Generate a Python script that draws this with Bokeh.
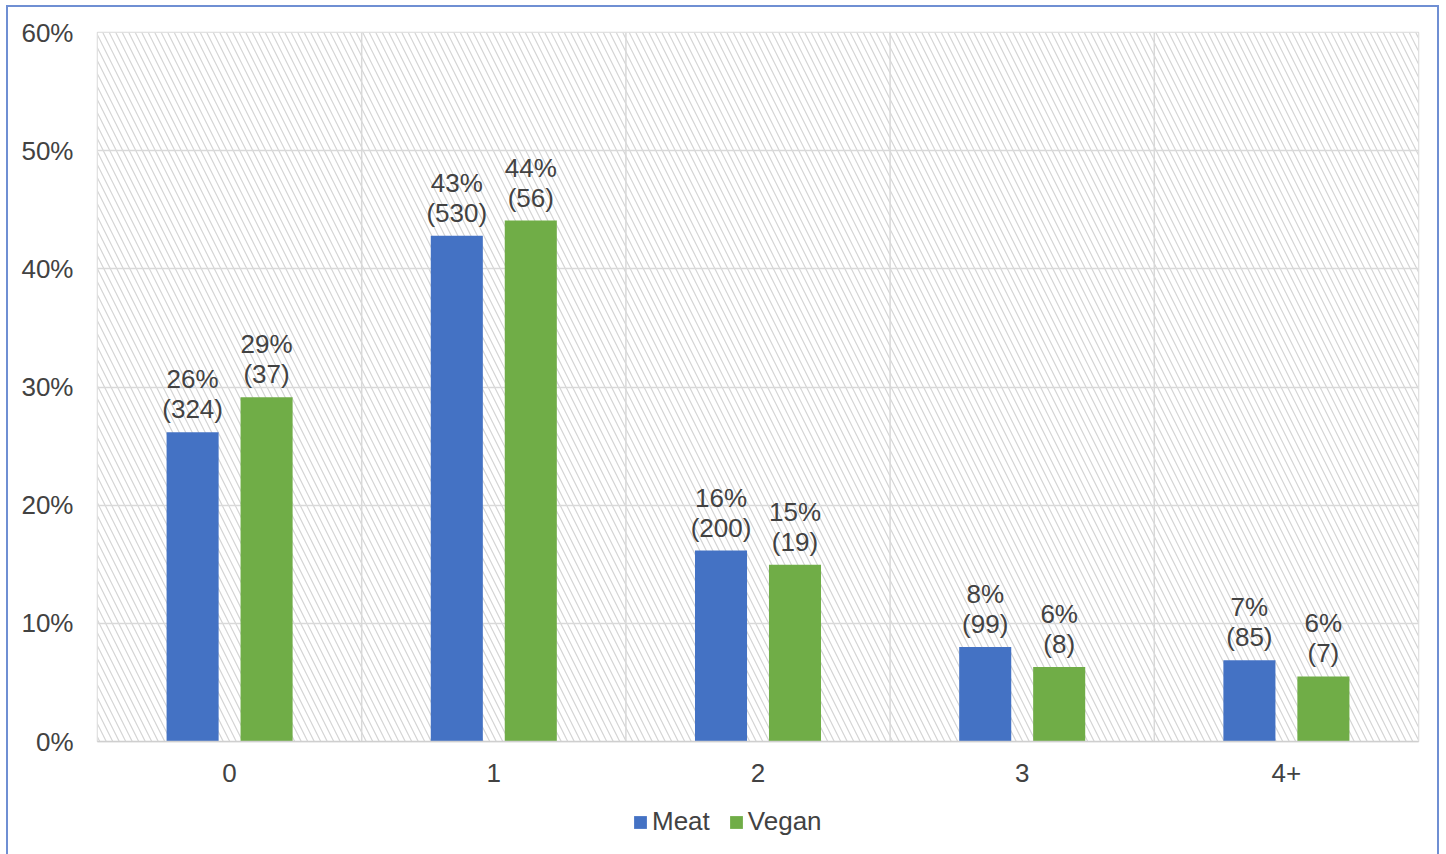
from bokeh.plotting import figure
from bokeh.layouts import column
from bokeh.models import (ColumnDataSource, FactorRange, Range1d, FixedTicker,
                          PrintfTickFormatter, Span, BoxAnnotation, Legend, LegendItem)
from bokeh.transform import dodge
from bokeh.core.properties import value
from bokeh.embed import file_html
from bokeh.resources import INLINE

# Number of items per respondent, share of each group (%) and raw counts
categories = ["0", "1", "2", "3", "4+"]
meat_pct = [26.17, 42.81, 16.16, 8.00, 6.87]
meat_n = [324, 530, 200, 99, 85]
vegan_pct = [29.13, 44.09, 14.96, 6.30, 5.51]
vegan_n = [37, 56, 19, 8, 7]
y_ticks = [0, 10, 20, 30, 40, 50, 60]
series = ["Meat", "Vegan"]

FONT = "Liberation Sans"
TEXT = "#424242"
BLUE = "#4472C4"
GREEN = "#70AD47"
GRID = "#d9d9d9"
FRAME_BORDER = "2px solid #6f8fd3"


def labels(pcts, counts):
    return [f"{p:.0f}%\n({n})" for p, n in zip(pcts, counts)]


src = ColumnDataSource(dict(
    cat=categories,
    meat=meat_pct, meat_lbl=labels(meat_pct, meat_n),
    vegan=vegan_pct, vegan_lbl=labels(vegan_pct, vegan_n),
))

p = figure(
    x_range=FactorRange(*categories), y_range=Range1d(0, 60),
    width=1433, height=849, output_backend="svg", toolbar_location=None,
    min_border_left=89, min_border_right=23, min_border_top=25, min_border_bottom=115,
    background_fill_color="white", border_fill_color="white",
)
p.margin = (5, 0, 0, 6)
p.styles = {"border-left": FRAME_BORDER, "border-top": FRAME_BORDER,
            "border-right": FRAME_BORDER}

p.outline_line_color = GRID
p.outline_line_width = 1.5

# hatched plot-area background
p.add_layout(BoxAnnotation(fill_color="white", fill_alpha=1.0, line_color=None,
                           hatch_pattern="\\", hatch_color="#d4d4d4",
                           hatch_weight=1.2, hatch_scale=13, level="image"))

# grid
p.ygrid.ticker = FixedTicker(ticks=y_ticks)
p.ygrid.grid_line_color = GRID
p.ygrid.grid_line_width = 1.5
p.xgrid.grid_line_color = None
for b in range(1, len(categories)):
    p.add_layout(Span(location=b, dimension="height", line_color=GRID,
                      line_width=1.5, level="underlay"))

# bars
p.vbar(x=dodge("cat", -0.14, range=p.x_range), top="meat", width=0.197,
       source=src, fill_color=BLUE, line_color=None)
p.vbar(x=dodge("cat", 0.14, range=p.x_range), top="vegan", width=0.197,
       source=src, fill_color=GREEN, line_color=None)

# value labels
for col, lbl, off in (("meat", "meat_lbl", -0.14), ("vegan", "vegan_lbl", 0.14)):
    p.text(x=dodge("cat", off, range=p.x_range), y=col, text=lbl, source=src,
           text_align="center", text_baseline="bottom", y_offset=-8,
           text_font=value(FONT), text_font_size="26px", text_color=TEXT,
           text_line_height=1.0)

# axes
p.yaxis.ticker = FixedTicker(ticks=y_ticks)
p.yaxis.formatter = PrintfTickFormatter(format="%d%%")
for ax in (p.xaxis[0], p.yaxis[0]):
    ax.major_tick_line_color = None
    ax.minor_tick_line_color = None
    ax.major_label_text_font = FONT
    ax.major_label_text_font_size = "26px"
    ax.major_label_text_color = TEXT
p.yaxis.axis_line_color = None
p.yaxis.major_label_standoff = 18
p.xaxis.axis_line_color = "#cfcfcf"
p.xaxis.axis_line_width = 1.5
p.xaxis.major_label_standoff = 16

# legend strip below the chart (its frame lines up with the chart's frame)
lg = figure(width=1440, height=40, output_backend="svg", toolbar_location=None,
            x_axis_location=None, y_axis_location=None,
            x_range=Range1d(0, 1), y_range=Range1d(0, 1),
            min_border_left=0, min_border_right=0, min_border_top=0, min_border_bottom=0,
            outline_line_color=None,
            background_fill_color=None, border_fill_color=None)
lg.grid.grid_line_color = None
lg.margin = (-52, 0, 0, 0)
# swatch renderers lie below the visible range; only their legend entries show
swatches = [lg.vbar(x=[0.5], top=[-5], width=0.1, fill_color=c, line_color=None)
            for c in (BLUE, GREEN)]
legend = Legend(
    items=[LegendItem(label=s, renderers=[r]) for s, r in zip(series, swatches)],
    location=(543, 5), orientation="horizontal",
    glyph_width=16, glyph_height=16, label_standoff=4, spacing=18,
    padding=0, margin=0, border_line_color=None, background_fill_alpha=0,
    label_text_font=FONT, label_text_font_size="26px", label_text_color=TEXT,
)
lg.add_layout(legend, "center")

page = column(p, lg)
open("out.html", "w").write(file_html(page, INLINE))
